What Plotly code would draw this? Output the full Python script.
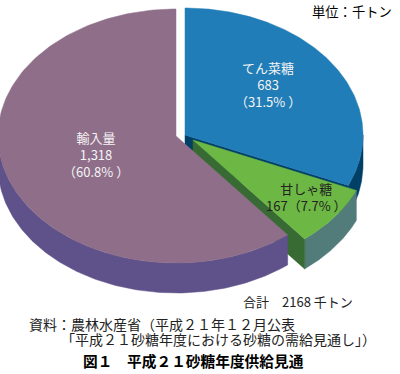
import numpy as np
import plotly.graph_objects as go

# Data
categories = ["てん菜糖", "甘しゃ糖", "輸入量"]
values = [683, 167, 1318]
percent_labels = ["31.5%", "7.7%", "60.8%"]
value_labels = ["683", "167", "1,318"]

top_colors = ["#217DB7", "#6DB844", "#8F6E8A"]
outer_wall_colors = ["#003F66", "#527C7A", "#5F5189"]
inner_wall_colors = ["#003F66", "#386A33", None]

# Projection of the tilted, exploded pie
centers = [(185, 135), (193, 140), (176, 136)]
A, B, DEPTH = 178, 127, 30

total = sum(values)
fractions = np.cumsum([0] + values) / total * 2 * np.pi


def arc(center, t0, t1, drop=0, n=180):
    t = np.linspace(t0, t1, n)
    return center[0] + A * np.sin(t), center[1] - B * np.cos(t) + drop


def poly(fig, x, y, color):
    fig.add_trace(go.Scatter(
        x=np.append(x, x[0]), y=np.append(y, y[0]), mode="lines",
        fill="toself", fillcolor=color, line=dict(color=color, width=0.5),
        hoverinfo="skip", showlegend=False))


fig = go.Figure()
for i in range(len(values)):
    c = centers[i]
    t0, t1 = fractions[i], fractions[i + 1]
    # Outer wall: only the part of the rim facing the viewer
    w0, w1 = max(t0, np.pi / 2), min(t1, 3 * np.pi / 2)
    ax, ay = arc(c, w0, w1)
    bx, by = arc(c, w1, w0, DEPTH)
    poly(fig, np.concatenate([ax, bx]), np.concatenate([ay, by]), outer_wall_colors[i])
    # Cut wall along the trailing radial edge
    if inner_wall_colors[i]:
        ex, ey = arc(c, t1, t1, n=1)
        poly(fig, np.array([c[0], ex[0], ex[0], c[0]]),
             np.array([c[1], ey[0], ey[0] + DEPTH, c[1] + DEPTH]), inner_wall_colors[i])
    # Top face
    tx, ty = arc(c, t0, t1)
    poly(fig, np.concatenate([[c[0]], tx]), np.concatenate([[c[1]], ty]), top_colors[i])

FONT = "Noto Sans CJK JP"
texts = [
    (268, 84, f"{categories[0]}<br>{value_labels[0]}<br>（{percent_labels[0]} ）", 13, "#F4F4F4", "normal"),
    (306, 197, f"{categories[1]}<br>{value_labels[1]}（{percent_labels[1]} ）", 13, "#222222", "normal"),
    (96, 154, f"{categories[2]}<br>{value_labels[2]}<br>（{percent_labels[2]} ）", 13, "#F4F4F4", "normal"),
    (352, 11, "単位：千トン", 13.3, "#000000", "normal"),
    (298, 301, f"合計　{total} 千トン", 13, "#222222", "normal"),
    (162, 324, "資料：農林水産省（平成２１年１２月公表", 14, "#222222", "normal"),
    (218, 339, "「平成２１砂糖年度における砂糖の需給見通し」）", 14, "#222222", "normal"),
    (193, 360, "図１　平成２１砂糖年度供給見通", 14.7, "#000000", "bold"),
]
for x, y, s, size, col, weight in texts:
    fig.add_annotation(x=x, y=y, text=s, showarrow=False, xanchor="center", yanchor="middle",
                       align="center",
                       font=dict(family=FONT, size=size, color=col, weight=weight))

fig.update_layout(
    width=400, height=374, margin=dict(l=0, r=0, t=0, b=0),
    paper_bgcolor="white", plot_bgcolor="white", showlegend=False,
    xaxis=dict(visible=False, range=[0, 400], fixedrange=True),
    yaxis=dict(visible=False, range=[374, 0], fixedrange=True),
)
fig.write_html("out.html", config={"displayModeBar": False},
               post_script="document.body.style.margin='0';document.body.style.overflow='hidden';")
